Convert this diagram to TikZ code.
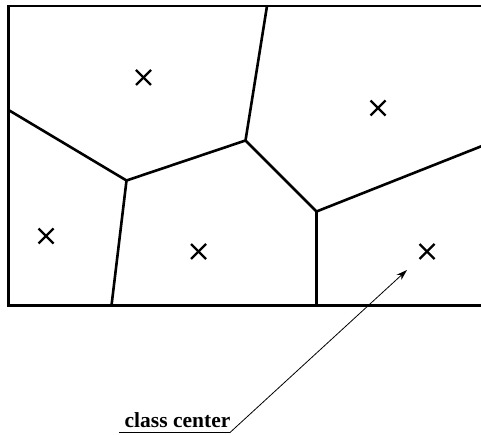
\documentclass[tikz,border=0pt]{standalone}
\usepackage{fontspec}
\setmainfont{Liberation Serif}
\usetikzlibrary{arrows.meta}
\begin{document}
\begin{tikzpicture}[x=1pt,y=-1pt,
  edge/.style={line width=2.6pt,line cap=butt,line join=miter},
  xmark/.style={line width=2.4pt},
  pointer/.style={line width=0.8pt,-{Stealth[length=11pt,width=7pt]}}]
\useasboundingbox (0,0) rectangle (481,435);
% frame and cell corners
\coordinate (TL) at (8.5,6);
\coordinate (TR) at (482,6);
\coordinate (BL) at (8.5,305.5);
\coordinate (BR) at (482,305.5);
\coordinate (A) at (8.5,110);
\coordinate (B) at (126.5,180.5);
\coordinate (C) at (111.5,305.5);
\coordinate (D) at (245.5,140.5);
\coordinate (E) at (267,6);
\coordinate (F) at (316.5,211.5);
\coordinate (G) at (316.5,305.5);
\coordinate (H) at (482,146);
\draw[edge] (TR) -- (TL) -- (BL) -- (BR);
\draw[edge] (A) -- (B) -- (C);
\draw[edge] (B) -- (D) -- (E);
\draw[edge] (D) -- (F) -- (G);
\draw[edge] (F) -- (H);
% class centres
\foreach \n/\px/\py in {c1/143.5/77.5,c2/378/108,c3/46/236,c4/198.5/251.5,c5/427/251.5}{
  \coordinate (\n) at (\px,\py);
  \draw[xmark] ([shift={(-7.5,-7.5)}]\n) -- ([shift={(7.5,7.5)}]\n);
  \draw[xmark] ([shift={(-7.5,7.5)}]\n) -- ([shift={(7.5,-7.5)}]\n);
}
% label
\node[anchor=base west,inner sep=0pt,font=\fontsize{21.5}{23}\selectfont\bfseries] (lab) at (124.5,427.5) {class center};
\coordinate (u1) at (119,432.5);
\coordinate (u2) at (230,432.5);
\coordinate (tip) at (407,270);
\draw[line width=0.8pt] (u1) -- (u2);
\draw[pointer] (u2) -- (tip);
\end{tikzpicture}
\end{document}
